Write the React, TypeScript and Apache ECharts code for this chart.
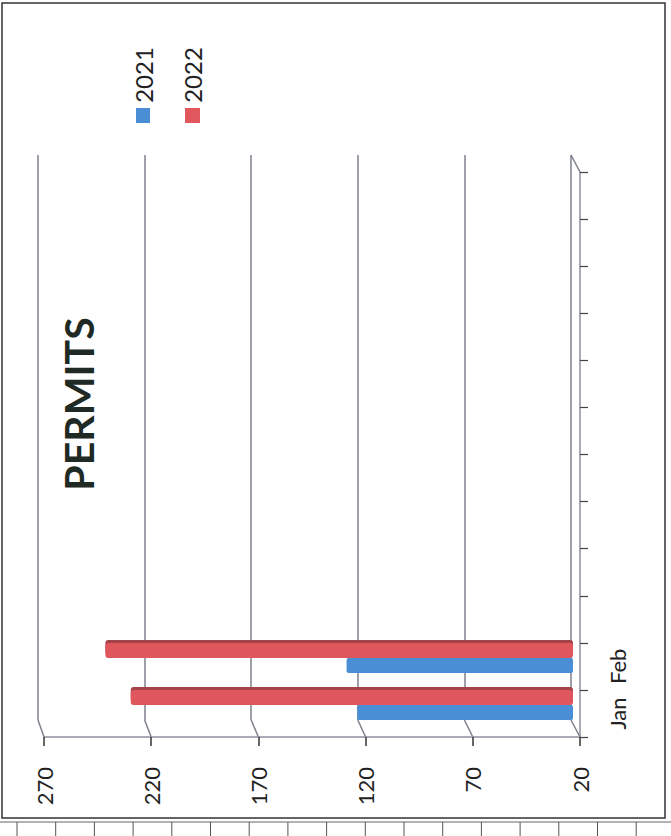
import React, { useEffect, useRef } from "react";
import * as echarts from "echarts";

const categories = ["Jan", "Feb", "", "", "", "", "", "", "", "", "", ""];
const series2021 = [122, 127];
const series2022 = [229, 241];
const legendNames = ["2021", "2022"];
const titleText = "PERMITS";
const valueMin = 20;
const valueMax = 270;
const valueStep = 50;

const BLUE = "#4a8fd6";
const RED = "#e0575d";
const RED_DARK = "#a3434a";
const GRID_COLOR = "#7c808b";
const FONT = "Lato, 'Open Sans', sans-serif";

export default function App() {
  const ref = useRef<HTMLDivElement>(null);
  useEffect(() => {
    const chart = echarts.init(ref.current!, null, { renderer: "svg" });
    const valAxisBase: any = {
      type: "value",
      inverse: true,
      min: valueMin,
      max: valueMax,
      interval: valueStep,
    };
    chart.setOption({
      animation: false,
      backgroundColor: "#ffffff",
      grid: [
        { left: 38, right: 100, top: 155, bottom: 116 },
        { left: 44, right: 91, top: 172, bottom: 99 },
        { left: 44, right: 98, top: 164.5, bottom: 107.5 },
      ],
      xAxis: [
        {
          ...valAxisBase,
          gridIndex: 0,
          axisLine: { show: false },
          axisTick: { show: false },
          axisLabel: { show: false },
          splitLine: { show: true, lineStyle: { color: GRID_COLOR, width: 1.5 } },
        },
        {
          ...valAxisBase,
          gridIndex: 1,
          axisLine: { show: true, onZero: false, lineStyle: { color: "#8d919c", width: 1.5 } },
          axisTick: { show: true, length: 9, lineStyle: { color: "#333", width: 1.5 } },
          axisLabel: { rotate: 90, fontSize: 22, color: "#222", margin: 30, fontFamily: FONT },
          splitLine: { show: false },
        },
        { ...valAxisBase, gridIndex: 2, show: false },
      ],
      yAxis: [
        { type: "category", gridIndex: 0, data: categories, show: false },
        {
          type: "category",
          gridIndex: 1,
          data: categories,
          position: "right",
          axisLine: { show: true, onZero: false, lineStyle: { color: "#8d919c", width: 1.5 } },
          axisTick: { show: true, length: 8, lineStyle: { color: "#444", width: 1.2 } },
          axisLabel: { rotate: 90, fontSize: 22, color: "#222", margin: 26, fontFamily: FONT },
          splitLine: { show: false },
        },
        { type: "category", gridIndex: 2, data: categories, show: false },
      ],
      series: [
        {
          name: legendNames[1],
          type: "bar",
          xAxisIndex: 2,
          yAxisIndex: 2,
          data: series2022,
          barWidth: 15,
          barGap: "0%",
          itemStyle: {
            color: RED,
            borderRadius: 3,
            shadowColor: RED_DARK,
            shadowOffsetY: -3,
            shadowBlur: 0,
          },
        },
        {
          name: legendNames[0],
          type: "bar",
          xAxisIndex: 2,
          yAxisIndex: 2,
          data: series2021,
          barWidth: 15,
          barGap: "0%",
          itemStyle: { color: BLUE, borderRadius: 2 },
        },
      ],
    });

    const ticks: number[] = [];
    for (let v = valueMin; v <= valueMax; v += valueStep) ticks.push(v);
    const backBottom = 836 - 116;
    const frontBottom = 836 - 99;
    const diagonals = ticks.map((v, i) => {
      const xb = chart.convertToPixel({ xAxisIndex: 0 } as any, v) as number;
      const xf = chart.convertToPixel({ xAxisIndex: 1 } as any, v) as number;
      return {
        type: "line",
        id: "diag" + i,
        shape: { x1: xb, y1: backBottom, x2: xf, y2: frontBottom },
        style: { stroke: GRID_COLOR, lineWidth: 1.5 },
      };
    });
    const xb20 = chart.convertToPixel({ xAxisIndex: 0 } as any, valueMin) as number;
    const xf20 = chart.convertToPixel({ xAxisIndex: 1 } as any, valueMin) as number;
    diagonals.push({
      type: "line",
      id: "diagTop",
      shape: { x1: xb20, y1: 155, x2: xf20, y2: 172 },
      style: { stroke: GRID_COLOR, lineWidth: 1.5 },
    });

    const ruler: any[] = [];
    for (let i = 0; i < 17; i++) {
      const x = 17 + i * 38.7;
      ruler.push({
        type: "line",
        id: "rul" + i,
        shape: { x1: x, y1: 822, x2: x, y2: 836 },
        style: { stroke: "#555", lineWidth: 1 },
      });
    }

    chart.setOption({
      graphic: [
        {
          type: "rect",
          id: "frame",
          shape: { x: 2, y: 3, width: 663, height: 815 },
          style: { fill: "none", stroke: "#333", lineWidth: 1.5 },
        },
        {
          type: "line",
          id: "rulerLine",
          shape: { x1: 0, y1: 822, x2: 671, y2: 822 },
          style: { stroke: "#666", lineWidth: 1 },
        },
        ...ruler,
        ...diagonals,
        {
          type: "text",
          id: "title",
          x: 78,
          y: 404,
          rotation: Math.PI / 2,
          style: {
            text: titleText,
            fill: "#1f2a24",
            font: "bold 41px " + FONT,
            textAlign: "center",
            textVerticalAlign: "middle",
          },
        },
        {
          type: "text",
          id: "lg0",
          x: 143,
          y: 75,
          rotation: Math.PI / 2,
          style: {
            text: legendNames[0],
            fill: "#222",
            font: "24px " + FONT,
            textAlign: "center",
            textVerticalAlign: "middle",
          },
        },
        {
          type: "rect",
          id: "lgs0",
          shape: { x: 136, y: 108, width: 14, height: 15 },
          style: { fill: BLUE },
        },
        {
          type: "text",
          id: "lg1",
          x: 192,
          y: 75,
          rotation: Math.PI / 2,
          style: {
            text: legendNames[1],
            fill: "#222",
            font: "24px " + FONT,
            textAlign: "center",
            textVerticalAlign: "middle",
          },
        },
        {
          type: "rect",
          id: "lgs1",
          shape: { x: 185, y: 108, width: 15, height: 15 },
          style: { fill: RED },
        },
      ],
    });

    return () => chart.dispose();
  }, []);
  return <div ref={ref} style={{ width: 671, height: 836, position: "absolute", left: 0, top: 0 }} />;
}
